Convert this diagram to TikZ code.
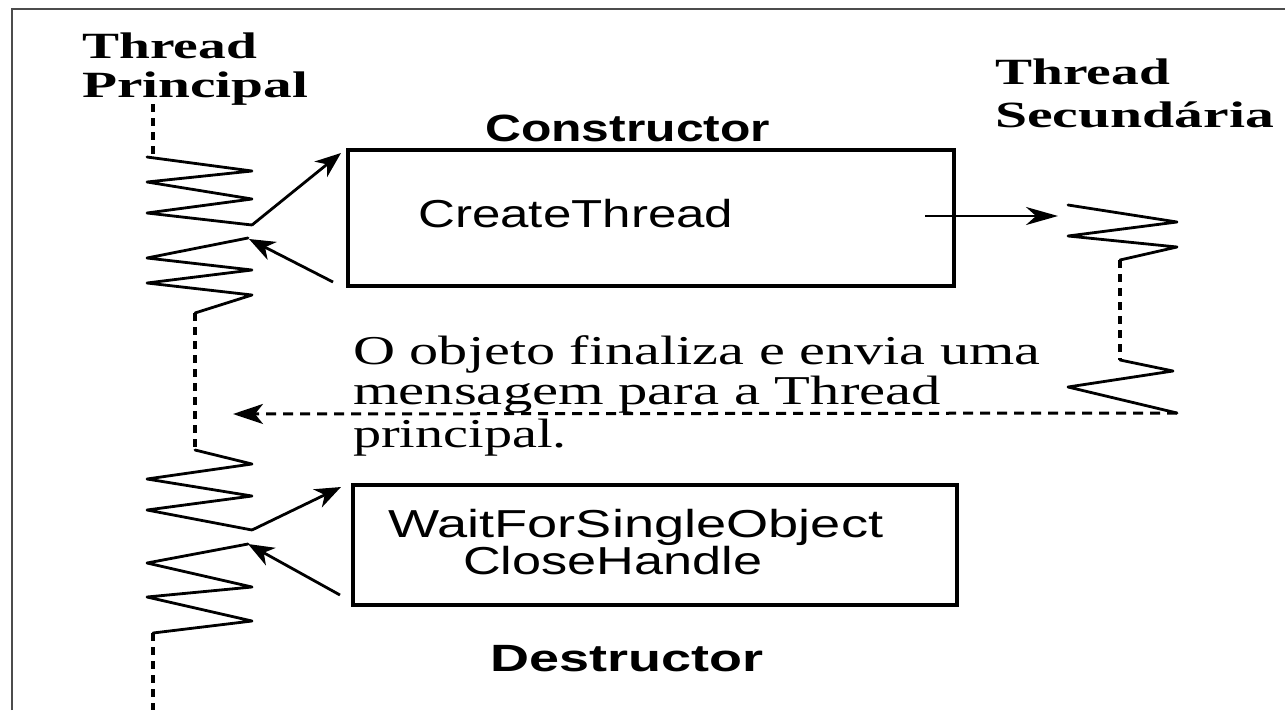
\documentclass[tikz,border=0pt]{standalone}
\usepackage{fontspec}
\setmainfont{Liberation Serif}
\setsansfont{Liberation Sans}
\usetikzlibrary{arrows.meta}
\begin{document}
\begin{tikzpicture}[x=1pt,y=-1pt,
  zig/.style={line width=2.8pt, line join=round, line cap=round},
  vdash/.style={line width=3.2pt, dash pattern=on 8pt off 6pt},
  hdash/.style={line width=3pt, dash pattern=on 10pt off 7pt},
  boxst/.style={draw, line width=3.5pt, inner sep=0pt, anchor=north west},
  txt/.style={inner sep=0pt, anchor=base west},
  arr/.style={line width=2.8pt, -{Stealth[length=26pt,width=20pt,inset=8pt]}},
  bigarr/.style={line width=2.8pt, -{Stealth[length=32pt,width=18pt,inset=10pt]}},
  ttl/.style={txt, font=\bfseries\fontsize{37}{37}\selectfont},
  stl/.style={txt, font=\sffamily\bfseries\fontsize{38}{38}\selectfont},
  boxtxt/.style={txt, font=\sffamily\fontsize{39}{39}\selectfont},
  msg/.style={txt, font=\fontsize{41}{41}\selectfont},
]
\useasboundingbox (0,0) rectangle (1285,710);
\draw[line width=2.5pt, black!70] (12,710) -- (12,9) -- (1285,9);

% titles
\node[ttl] (tp1) at (82,58) {\scalebox{1.50}[1]{Thread}};
\node[ttl] (tp2) at (82,97) {\scalebox{1.55}[1]{Principal}};
\node[ttl] (ts1) at (995,84) {\scalebox{1.50}[1]{Thread}};
\node[ttl] (ts2) at (995,127) {\scalebox{1.56}[1]{Secundária}};
\node[stl] (ctorlbl) at (485,141) {\scalebox{1.31}[1]{Constructor}};
\node[stl] (dtorlbl) at (490,671) {\scalebox{1.42}[1]{Destructor}};

% boxes
\node[boxst, minimum width=606pt, minimum height=136pt] (ctor) at (346,148) {};
\node[boxst, minimum width=604pt, minimum height=120pt] (dtor) at (351,483) {};
\node[boxtxt] (create) at (418,227) {\scalebox{1.31}[1]{CreateThread}};
\node[boxtxt] (wait) at (388,537) {\scalebox{1.39}[1]{WaitForSingleObject}};
\node[boxtxt] (close) at (463,574) {\scalebox{1.34}[1]{CloseHandle}};

% message
\node[msg] (m1) at (353,364) {\scalebox{1.42}[1]{O objeto finaliza e envia uma}};
\node[msg] (m2) at (353,404) {\scalebox{1.43}[1]{mensagem para a Thread}};
\node[msg] (m3) at (353,447) {\scalebox{1.37}[1]{principal.}};

% main thread
\draw[vdash] (153,104) -- (153,155);
\draw[zig] (147,157) -- (252,171) -- (147,182) -- (252,199) -- (147,213) -- (252,225);
\draw[zig] (248,238) -- (147,258) -- (252,270) -- (147,283) -- (252,295) -- (195,313);
\draw[vdash] (195,313) -- (195,450);
\draw[zig] (195,450) -- (252,464) -- (147,479) -- (252,496) -- (147,510) -- (252,530);
\draw[zig] (248,544) -- (147,563) -- (252,587) -- (147,597) -- (252,621) -- (153,633);
\draw[vdash] (153,633) -- (153,710);

% secondary thread
\draw[zig] (1068,205) -- (1177,222) -- (1068,236) -- (1177,247) -- (1120,260);
\draw[vdash] (1120,260) -- (1120,360);
\draw[zig] (1120,360) -- (1173,371) -- (1068,387) -- (1177,413);

% connectors
\coordinate (p1) at (252,225); \coordinate (q1) at (341,153);
\coordinate (p2) at (333,282); \coordinate (q2) at (249,239);
\coordinate (p3) at (252,530); \coordinate (q3) at (341,487);
\coordinate (p4) at (340,595); \coordinate (q4) at (248,544);
\coordinate (c1) at (925,216); \coordinate (c2) at (1058,216);
\coordinate (d1) at (1177,413); \coordinate (d2) at (233,414);
\draw[arr] (p1) -- (q1);
\draw[arr] (p2) -- (q2);
\draw[arr] (p3) -- (q3);
\draw[arr] (p4) -- (q4);
\draw[bigarr] (c1) -- (c2);
\draw[hdash, -{Stealth[length=30pt,width=20pt,inset=8pt]}] (d1) -- (d2);
\end{tikzpicture}
\end{document}
